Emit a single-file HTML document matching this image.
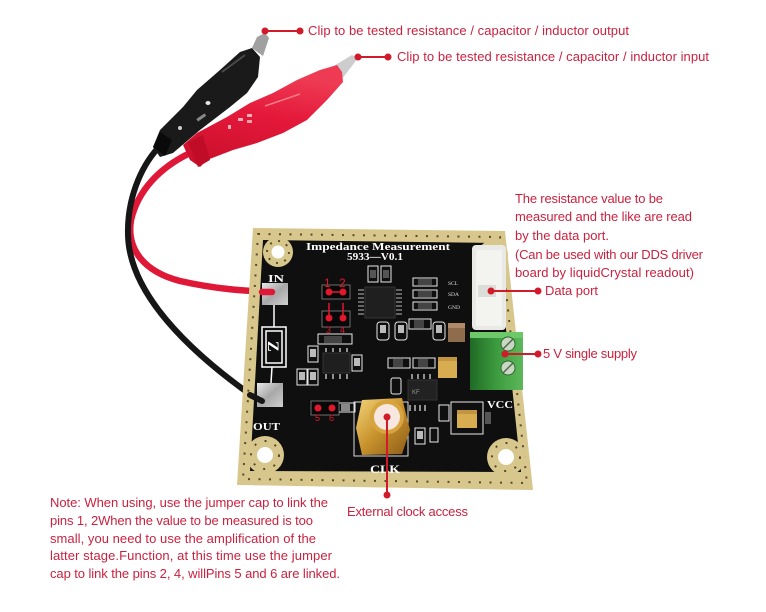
<!DOCTYPE html>
<html><head><meta charset="utf-8">
<style>
html,body{margin:0;padding:0;background:#fff;}
svg{display:block;}
.a{font-family:"Liberation Sans",sans-serif;font-size:13px;fill:#c9223f;}
.w{font-family:"Liberation Serif",serif;font-weight:bold;fill:#fff;}
.s{fill:none;stroke:#e8e8e8;stroke-width:1;}
.r{font-family:"Liberation Sans",sans-serif;fill:#e0182c;}
</style></head><body>
<svg width="766" height="612" viewBox="0 0 766 612" xmlns="http://www.w3.org/2000/svg">
<defs>
 <linearGradient id="gold" x1="0" y1="0" x2="1" y2="1">
  <stop offset="0" stop-color="#f3d47a"/><stop offset="0.5" stop-color="#c8922c"/><stop offset="1" stop-color="#8a5a18"/>
 </linearGradient>
 <linearGradient id="silver" x1="0" y1="0" x2="1" y2="1">
  <stop offset="0" stop-color="#e8e8e8"/><stop offset="0.5" stop-color="#a8a8a8"/><stop offset="1" stop-color="#d0d0d0"/>
 </linearGradient>
 <linearGradient id="grn" x1="0" y1="0" x2="1" y2="0">
  <stop offset="0" stop-color="#1f6a25"/><stop offset="0.5" stop-color="#3d9b3f"/><stop offset="1" stop-color="#5cb85a"/>
 </linearGradient>
 <linearGradient id="redc" x1="0" y1="1" x2="0.3" y2="0">
  <stop offset="0" stop-color="#c80f2a"/><stop offset="0.6" stop-color="#e4183a"/><stop offset="1" stop-color="#ee3a52"/>
 </linearGradient>
</defs>
<rect width="766" height="612" fill="#fff"/>

<!-- red cable (behind) -->
<path d="M 188 154 C 160 168, 138 190, 131 220 C 126 250, 145 272, 180 281 C 215 289, 245 291, 272 292" fill="none" stroke="#e01838" stroke-width="6.5" stroke-linecap="round"/>
<!-- black cable -->
<path d="M 158 148 C 140 168, 127 200, 128 235 C 129 280, 165 335, 258 400" fill="none" stroke="#161616" stroke-width="6" stroke-linecap="round"/>

<!-- black clip -->
<polygon points="252,48 257,37 265,33 269,38 263,56" fill="#a0a0a0"/>
<polygon points="240,52 220,70 197,90 183,107 160,130 153,147 160,157 173,153 200,130 230,107 247,93 258,77 260,57 252,48" fill="#1a1a1a"/>
<polygon points="153,147 160,132 172,140 165,156" fill="#0a0a0a"/>
<ellipse cx="208" cy="103" rx="2.5" ry="2" fill="#e6e6e6"/>
<ellipse cx="180" cy="128" rx="2" ry="2" fill="#cfcfcf"/>
<rect x="196" y="116" width="10" height="3" fill="#888" transform="rotate(-35 201 117)"/>
<path d="M 222 72 L 245 55" stroke="#4a4a4a" stroke-width="2"/>

<!-- red clip -->
<polygon points="332,67 352,55 358,58 342,79" fill="#cdcdcd"/>
<polygon points="337,65 320,70 297,80 273,93 250,103 227,117 197,133 183,145 190,160 200,167 207,160 233,150 257,143 283,133 307,120 327,100 343,82 342,72" fill="url(#redc)"/>
<polygon points="188,142 203,135 210,160 198,167" fill="#c00c26"/>
<rect x="238" y="118" width="5" height="3" fill="#f6b0b8"/>
<rect x="247" y="114" width="5" height="3" fill="#f6b0b8"/>
<rect x="247" y="120" width="5" height="3" fill="#f3a0aa"/>
<rect x="228" y="125" width="3" height="4" fill="#f6b0b8"/>
<path d="M 265 106 L 300 94" stroke="#f47a88" stroke-width="1.5"/>

<!-- board -->
<polygon points="253,228 505,231 533,490 237,485" fill="#d8c78c"/>
<polygon points="263,240 497,243 521,472 250,471" fill="#0f0f0f"/>
<path d="M 258 234 L 500 237 L 527 483 L 243 479 Z" fill="none" stroke="#5a4a2a" stroke-width="2" stroke-dasharray="2 8.5"/>

<!-- corner holes -->
<g>
 <circle cx="278" cy="252" r="15" fill="#d8c78c"/><circle cx="278" cy="252" r="11" fill="none" stroke="#5a4a2a" stroke-width="2" stroke-dasharray="2 6.6"/><circle cx="278" cy="252" r="6.5" fill="#fff"/>
 <circle cx="493" cy="255" r="15" fill="#d8c78c"/>
 <circle cx="265" cy="455" r="19" fill="#d8c78c"/><circle cx="265" cy="455" r="14" fill="none" stroke="#5a4a2a" stroke-width="2" stroke-dasharray="2 8.9"/><circle cx="265" cy="455" r="8" fill="#fff"/>
 <circle cx="506" cy="457" r="19" fill="#d8c78c"/><circle cx="506" cy="457" r="14" fill="none" stroke="#5a4a2a" stroke-width="2" stroke-dasharray="2 8.9"/><circle cx="506" cy="457" r="8" fill="#fff"/>
</g>

<!-- board titles -->
<text class="w" x="306" y="250" font-size="11" textLength="144" lengthAdjust="spacingAndGlyphs">Impedance Measurement</text>
<text class="w" x="347" y="260" font-size="10" textLength="56" lengthAdjust="spacingAndGlyphs">5933—V0.1</text>
<text class="w" x="268" y="282" font-size="11" textLength="16" lengthAdjust="spacingAndGlyphs">IN</text>
<text class="w" x="253" y="430" font-size="11" textLength="27" lengthAdjust="spacingAndGlyphs">OUT</text>
<text class="w" x="487" y="408" font-size="11" textLength="26" lengthAdjust="spacingAndGlyphs">VCC</text>
<text class="w" x="370" y="473" font-size="12" textLength="30" lengthAdjust="spacingAndGlyphs">CLK</text>

<!-- IN/OUT pads and Z -->
<rect x="262" y="283" width="26" height="22" fill="url(#silver)"/>
<rect x="257" y="383" width="26" height="24" fill="url(#silver)"/>
<line x1="274" y1="305" x2="274" y2="327" stroke="#fff" stroke-width="1.5"/>
<line x1="272" y1="367" x2="271" y2="383" stroke="#fff" stroke-width="1.5"/>
<rect x="262" y="327" width="24" height="40" fill="none" stroke="#fff" stroke-width="1.5"/>
<rect x="266" y="331" width="16" height="32" fill="none" stroke="#fff" stroke-width="1.5"/>
<text class="w" x="0" y="0" font-size="16" transform="translate(268,341) rotate(90)">Z</text>
<!-- cable ends over pads -->
<line x1="262" y1="292" x2="272" y2="292" stroke="#e01838" stroke-width="6.5" stroke-linecap="round"/>
<line x1="250" y1="395" x2="262" y2="401" stroke="#161616" stroke-width="6" stroke-linecap="round"/>

<!-- components -->
<g>
 <rect x="368" y="266" width="10" height="16" class="s"/><rect x="370" y="270" width="6" height="8" fill="#555"/>
 <rect x="381" y="266" width="10" height="16" class="s"/><rect x="383" y="270" width="6" height="8" fill="#555"/>
 <rect x="365" y="287" width="30" height="31" fill="#1f1f1f" stroke="#333"/>
 <g stroke="#bbb" stroke-width="1"><line x1="358" y1="290" x2="364" y2="290"/><line x1="358" y1="294" x2="364" y2="294"/><line x1="358" y1="298" x2="364" y2="298"/><line x1="358" y1="302" x2="364" y2="302"/><line x1="358" y1="306" x2="364" y2="306"/><line x1="358" y1="310" x2="364" y2="310"/><line x1="358" y1="314" x2="364" y2="314"/>
 <line x1="396" y1="290" x2="402" y2="290"/><line x1="396" y1="294" x2="402" y2="294"/><line x1="396" y1="298" x2="402" y2="298"/><line x1="396" y1="302" x2="402" y2="302"/><line x1="396" y1="306" x2="402" y2="306"/><line x1="396" y1="310" x2="402" y2="310"/><line x1="396" y1="314" x2="402" y2="314"/></g>
 <rect x="413" y="278" width="24" height="8" class="s"/><rect x="418" y="279" width="14" height="6" fill="#444"/>
 <rect x="413" y="290" width="24" height="8" class="s"/><rect x="418" y="291" width="14" height="6" fill="#444"/>
 <rect x="413" y="302" width="24" height="8" class="s"/><rect x="418" y="303" width="14" height="6" fill="#444"/>
 <text x="448" y="285" font-size="5.5" fill="#ddd" font-family="Liberation Serif">SCL</text>
 <text x="448" y="296" font-size="5.5" fill="#ddd" font-family="Liberation Serif">SDA</text>
 <text x="448" y="309" font-size="5.5" fill="#ddd" font-family="Liberation Serif">GND</text>
 <rect x="377" y="322" width="12" height="18" rx="3" class="s"/><rect x="380" y="325" width="6" height="8" fill="#bbb"/>
 <rect x="395" y="322" width="12" height="18" rx="3" class="s"/><rect x="398" y="325" width="6" height="8" fill="#bbb"/>
 <rect x="409" y="319" width="22" height="10" class="s"/><rect x="414" y="320" width="10" height="8" fill="#444"/>
 <rect x="433" y="322" width="12" height="18" rx="3" class="s"/><rect x="436" y="325" width="6" height="8" fill="#bbb"/>
 <rect x="448" y="323" width="17" height="19" fill="#8e6c4c"/><rect x="448" y="323" width="17" height="5" fill="#b08a66"/>
 <rect x="318" y="334" width="34" height="10" class="s"/><rect x="324" y="336" width="18" height="7" fill="#444"/>
 <rect x="323" y="353" width="27" height="20" fill="#1f1f1f" stroke="#333"/>
 <g stroke="#bbb" stroke-width="1.5"><line x1="326" y1="348" x2="326" y2="352"/><line x1="333" y1="348" x2="333" y2="352"/><line x1="340" y1="348" x2="340" y2="352"/><line x1="347" y1="348" x2="347" y2="352"/>
 <line x1="326" y1="374" x2="326" y2="379"/><line x1="333" y1="374" x2="333" y2="379"/><line x1="340" y1="374" x2="340" y2="379"/><line x1="347" y1="374" x2="347" y2="379"/></g>
 <rect x="308" y="346" width="10" height="16" class="s"/><rect x="310" y="349" width="6" height="8" fill="#bbb"/>
 <rect x="297" y="369" width="10" height="16" class="s"/><rect x="299" y="372" width="6" height="8" fill="#bbb"/>
 <rect x="308" y="369" width="10" height="16" class="s"/><rect x="310" y="372" width="6" height="8" fill="#bbb"/>
 <rect x="352" y="355" width="10" height="16" class="s"/><rect x="354" y="358" width="6" height="8" fill="#bbb"/>
 <rect x="388" y="358" width="22" height="10" class="s"/><rect x="393" y="359" width="10" height="8" fill="#444"/>
 <rect x="413" y="358" width="22" height="10" class="s"/><rect x="418" y="359" width="10" height="8" fill="#444"/>
 <rect x="438" y="357" width="19" height="21" fill="#d8ad52"/><rect x="438" y="357" width="19" height="4" fill="#c39540"/>
 <rect x="408" y="380" width="29" height="20" fill="#222" stroke="#333"/>
 <text x="412" y="394" font-size="6" fill="#999" font-family="Liberation Sans">KF</text>
 <g stroke="#bbb" stroke-width="1.5"><line x1="412" y1="374" x2="412" y2="379"/><line x1="418" y1="374" x2="418" y2="379"/><line x1="424" y1="374" x2="424" y2="379"/><line x1="430" y1="374" x2="430" y2="379"/></g>
 <rect x="337" y="403" width="18" height="9" class="s"/><rect x="341" y="404" width="9" height="7" fill="#888"/>
 <rect x="391" y="378" width="10" height="16" rx="2" class="s"/>
 <g stroke="#bbb" stroke-width="1.5"><line x1="410" y1="405" x2="410" y2="411"/><line x1="415" y1="405" x2="415" y2="411"/><line x1="420" y1="405" x2="420" y2="411"/><line x1="425" y1="405" x2="425" y2="411"/></g>
 <rect x="415" y="428" width="10" height="16" class="s"/><rect x="417" y="431" width="6" height="8" fill="#bbb"/>
 <rect x="430" y="428" width="8" height="14" class="s"/>
 <rect x="439" y="405" width="10" height="16" class="s"/>
 <rect x="451" y="402" width="32" height="32" class="s"/>
 <rect x="457" y="410" width="20" height="18" fill="#d8ad52"/><rect x="457" y="410" width="20" height="4" fill="#c39540"/>
 <rect x="485" y="412" width="6" height="12" fill="#555"/>
 <!-- jumper headers -->
 <rect x="322" y="285" width="28" height="14" fill="#080808" stroke="#888" stroke-width="0.8"/>
 <rect x="322" y="311" width="28" height="16" fill="#080808" stroke="#888" stroke-width="0.8"/>
 <rect x="311" y="401" width="28" height="14" fill="#080808" stroke="#888" stroke-width="0.8"/>
</g>

<!-- white connector -->
<rect x="472" y="245" width="34" height="85" rx="4" fill="#e9e9e6"/>
<rect x="476" y="250" width="26" height="76" fill="#f3f3f0"/>
<rect x="478" y="285" width="18" height="12" fill="#dcdcd8"/>
<!-- green terminal -->
<rect x="470" y="332" width="53" height="58" fill="url(#grn)"/>
<rect x="470" y="332" width="53" height="6" fill="#6cc868"/>
<circle cx="508" cy="344" r="7" fill="#c9d6c4" stroke="#2d6a2d"/>
<line x1="503" y1="349" x2="513" y2="339" stroke="#4a6a4a" stroke-width="1.5"/>
<circle cx="508" cy="368" r="7" fill="#c9d6c4" stroke="#2d6a2d"/>
<line x1="503" y1="373" x2="513" y2="363" stroke="#4a6a4a" stroke-width="1.5"/>

<!-- SMA connector -->
<rect x="354" y="402" width="54" height="54" fill="none" stroke="#ddd" stroke-width="1"/>
<polygon points="362,400 402,398 410,430 402,454 362,455 356,428" fill="url(#gold)"/>
<circle cx="387" cy="417" r="17" fill="#d8a440"/>
<circle cx="387" cy="417" r="13" fill="#f6e8e0"/>

<!-- jumper red marks -->
<g fill="#e0182c">
 <line x1="329" y1="292" x2="343" y2="292" stroke="#e0182c" stroke-width="1.5"/>
 <line x1="329" y1="303" x2="329" y2="318" stroke="#e0182c" stroke-width="1.5"/>
 <line x1="343" y1="303" x2="343" y2="318" stroke="#e0182c" stroke-width="1.5"/>
 <circle cx="329" cy="292" r="3.5"/><circle cx="343" cy="292" r="3.5"/>
 <circle cx="329" cy="318" r="3.5"/><circle cx="343" cy="318" r="3.5"/>
 <circle cx="318" cy="408" r="3.5"/><circle cx="332" cy="408" r="3.5"/>
</g>
<text class="r" x="324" y="287" font-size="12">1</text>
<text class="r" x="339" y="287" font-size="12">2</text>
<text class="r" x="326" y="333" font-size="9">3</text>
<text class="r" x="340" y="333" font-size="9">4</text>
<text class="r" x="315" y="421" font-size="9">5</text>
<text class="r" x="329" y="421" font-size="9">6</text>

<!-- annotation connectors -->
<g stroke="#d11a2a" stroke-width="2" fill="#d11a2a">
 <line x1="265" y1="31" x2="300" y2="31"/><circle cx="265" cy="31" r="3.5" stroke="none"/><circle cx="300" cy="31" r="3.5" stroke="none"/>
 <line x1="358" y1="57" x2="388" y2="57"/><circle cx="358" cy="57" r="3.5" stroke="none"/><circle cx="388" cy="57" r="3.5" stroke="none"/>
 <line x1="491" y1="291" x2="538" y2="291"/><circle cx="491" cy="291" r="3.5" stroke="none"/><circle cx="538" cy="291" r="3.5" stroke="none"/>
 <line x1="505" y1="354" x2="538" y2="354"/><circle cx="505" cy="354" r="3.5" stroke="none"/><circle cx="538" cy="354" r="3.5" stroke="none"/>
 <line x1="387" y1="417" x2="387" y2="495"/><circle cx="387" cy="417" r="3.5" stroke="none"/><circle cx="387" cy="495" r="3.5" stroke="none"/>
</g>

<!-- annotation text -->
<text class="a" x="308" y="35" textLength="321" lengthAdjust="spacing">Clip to be tested resistance / capacitor / inductor output</text>
<text class="a" x="397" y="61" textLength="312" lengthAdjust="spacing">Clip to be tested resistance / capacitor / inductor input</text>
<text class="a" x="515" y="203" textLength="148" lengthAdjust="spacing">The resistance value to be</text>
<text class="a" x="515" y="221" textLength="177" lengthAdjust="spacing">measured and the like are read</text>
<text class="a" x="515" y="240" textLength="94" lengthAdjust="spacing">by the data port.</text>
<text class="a" x="515" y="259" textLength="188" lengthAdjust="spacing">(Can be used with our DDS driver</text>
<text class="a" x="515" y="277" textLength="179" lengthAdjust="spacing">board by liquidCrystal readout)</text>
<text class="a" x="545" y="295" textLength="53" lengthAdjust="spacing">Data port</text>
<text class="a" x="543" y="358" textLength="94" lengthAdjust="spacing">5 V single supply</text>
<text class="a" x="50" y="507" textLength="278" lengthAdjust="spacing">Note: When using, use the jumper cap to link the</text>
<text class="a" x="50" y="525" textLength="263" lengthAdjust="spacing">pins 1, 2When the value to be measured is too</text>
<text class="a" x="50" y="543" textLength="266" lengthAdjust="spacing">small, you need to use the amplification of the</text>
<text class="a" x="50" y="560" textLength="282" lengthAdjust="spacing">latter stage.Function, at this time use the jumper</text>
<text class="a" x="50" y="578" textLength="290" lengthAdjust="spacing">cap to link the pins 2, 4, willPins 5 and 6 are linked.</text>
<text class="a" x="347" y="516" textLength="121" lengthAdjust="spacing">External clock access</text>
</svg>
</body></html>
